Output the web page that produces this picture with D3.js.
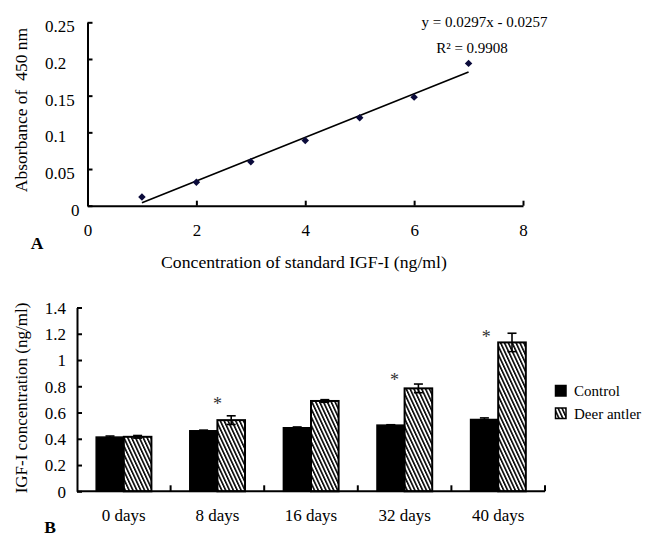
<!DOCTYPE html>
<html><head><meta charset="utf-8">
<script src="https://cdn.jsdelivr.net/npm/d3@7"></script>
<style>
body{margin:0;background:#fff}
svg{display:block}
text{font-family:"Liberation Serif","Times New Roman",serif;fill:#000;white-space:pre}
</style>
</head><body>
<svg id="c" width="654" height="543"></svg>
<script>
// ---------- Panel A data ----------
const concX = [1, 2, 3, 4, 5, 6, 7];
const absorbance = [0.012, 0.032, 0.060, 0.089, 0.120, 0.148, 0.194];
const trendSlope = 0.0297;
const trendIntercept = -0.0257;
const trendRange = [1, 7];
const xTicksA = [0, 2, 4, 6, 8];
const yTicksA = [0, 0.05, 0.1, 0.15, 0.2, 0.25];
const eqLabel = "y = 0.0297x - 0.0257";
const r2Label = "R\u00B2 = 0.9908";
const xTitleA = "Concentration of standard IGF-I (ng/ml)";
const yTitleA = "Absorbance of  450 nm";

// ---------- Panel B data ----------
const days = ["0 days", "8 days", "16 days", "32 days", "40 days"];
const controlVals = [0.413, 0.461, 0.484, 0.504, 0.547];
const controlErr = [0.008, 0.005, 0.006, 0.003, 0.012];
const antlerVals = [0.415, 0.542, 0.688, 0.784, 1.134];
const antlerErr = [0.010, 0.033, 0.010, 0.033, 0.070];
const yTicksB = [0, 0.2, 0.4, 0.6, 0.8, 1, 1.2, 1.4];
const starDays = ["8 days", "32 days", "40 days"];
const starVals = [0.684, 0.862, 1.19];
const seriesNames = ["Control", "Deer antler"];
const yTitleB = "IGF-I concentration (ng/ml)";

const svg = d3.select("#c");
const FONT = "'Liberation Serif','Times New Roman',serif";

// hatch pattern
const defs = svg.append("defs");
const pat = defs.append("pattern").attr("id", "hatch")
  .attr("patternUnits", "userSpaceOnUse").attr("width", 3.5).attr("height", 10)
  .attr("patternTransform", "rotate(-25)");
pat.append("rect").attr("width", 3.5).attr("height", 10).attr("fill", "#fff");
pat.append("rect").attr("width", 1.6).attr("height", 10).attr("fill", "#000");

// ================= Panel A =================
const xA = d3.scaleLinear().domain([0, 8]).range([87.5, 523]);
const yA = d3.scaleLinear().domain([0, 0.25]).range([205.7, 22.3]);

const gA = svg.append("g");
const yAxA = gA.append("g").attr("transform", `translate(${xA(0)},0)`)
  .call(d3.axisLeft(yA).tickValues(yTicksA).tickSize(-5).tickSizeOuter(0)
    .tickFormat(d => d === 0 ? "0" : String(d)));
yAxA.attr("font-family", FONT).attr("font-size", 17);
yAxA.select(".domain").attr("stroke-width", 2);
yAxA.selectAll(".tick line").attr("stroke-width", 2);
yAxA.selectAll(".tick text")
  .attr("text-anchor", d => d === 0 ? "end" : "start")
  .attr("x", d => d === 0 ? -8 : 45 - xA(0))
  .attr("dy", "0.55em");
const xAxA = gA.append("g").attr("transform", `translate(0,${yA(0)})`)
  .call(d3.axisBottom(xA).tickValues(xTicksA).tickSize(-5).tickSizeOuter(0));
xAxA.attr("font-family", FONT).attr("font-size", 17);
xAxA.select(".domain").attr("stroke-width", 2);
xAxA.selectAll(".tick line").attr("stroke-width", 2);
xAxA.selectAll(".tick text").attr("y", 24).attr("dy", "0.35em");

gA.append("line")
  .attr("x1", xA(trendRange[0])).attr("y1", yA(trendSlope * trendRange[0] + trendIntercept))
  .attr("x2", xA(trendRange[1])).attr("y2", yA(trendSlope * trendRange[1] + trendIntercept))
  .attr("stroke", "#000").attr("stroke-width", 1.6);
gA.selectAll("path.pt").data(concX).enter().append("path").attr("class", "pt")
  .attr("d", d3.symbol().type(d3.symbolSquare).size(28))
  .attr("transform", (d, i) => `translate(${xA(d)},${yA(absorbance[i])}) rotate(45)`)
  .attr("fill", "#0b0b3b");
gA.append("text").attr("x", 484.5).attr("y", 22).attr("dy", "0.35em")
  .attr("text-anchor", "middle").attr("font-size", 15).text(eqLabel);
gA.append("text").attr("x", 472).attr("y", 48).attr("dy", "0.35em")
  .attr("text-anchor", "middle").attr("font-size", 15).text(r2Label);
gA.append("text").attr("x", 304).attr("y", 262).attr("dy", "0.35em")
  .attr("text-anchor", "middle").attr("font-size", 17.7).text(xTitleA);
gA.append("text").attr("transform", "translate(21,110) rotate(-90)")
  .attr("dy", "0.35em").attr("text-anchor", "middle").attr("font-size", 17.5).text(yTitleA);
gA.append("text").attr("x", 37).attr("y", 243).attr("dy", "0.35em")
  .attr("text-anchor", "middle").attr("font-size", 17.5).attr("font-weight", "bold").text("A");

// ================= Panel B =================
const xB = d3.scaleBand().domain(days).range([77, 545]).paddingInner(0).paddingOuter(0);
const yB = d3.scaleLinear().domain([0, 1.4]).range([491.3, 307.5]);
const bw = xB.bandwidth() * 0.295;

const gB = svg.append("g");
const yAxB = gB.append("g").attr("transform", `translate(77,0)`)
  .call(d3.axisLeft(yB).tickValues(yTicksB).tickSize(-5).tickSizeOuter(0).tickPadding(11)
    .tickFormat(d => String(d)));
yAxB.attr("font-family", FONT).attr("font-size", 17);
yAxB.select(".domain").attr("stroke-width", 2);
yAxB.selectAll(".tick line").attr("stroke-width", 2);
yAxB.selectAll(".tick text").attr("dy", "0.35em");

const cx = d => xB(d) + xB.bandwidth() / 2;
gB.selectAll("rect.ctl").data(days).enter().append("rect").attr("class", "ctl")
  .attr("x", d => cx(d) - bw).attr("width", bw)
  .attr("y", (d, i) => yB(controlVals[i])).attr("height", (d, i) => yB(0) - yB(controlVals[i]))
  .attr("fill", "#000").attr("stroke", "#000").attr("stroke-width", 1.5);
gB.selectAll("rect.ant").data(days).enter().append("rect").attr("class", "ant")
  .attr("x", d => cx(d)).attr("width", bw)
  .attr("y", (d, i) => yB(antlerVals[i])).attr("height", (d, i) => yB(0) - yB(antlerVals[i]))
  .attr("fill", "url(#hatch)").attr("stroke", "#000").attr("stroke-width", 2);

function errBars(vals, errs, off) {
  days.forEach((d, i) => {
    const x = cx(d) + off;
    const y1 = yB(vals[i] + errs[i]), y2 = yB(vals[i] - errs[i]);
    const g = gB.append("g").attr("stroke", "#000").attr("stroke-width", 1.6);
    g.append("line").attr("x1", x).attr("x2", x).attr("y1", y1).attr("y2", y2);
    g.append("line").attr("x1", x - 4.5).attr("x2", x + 4.5).attr("y1", y1).attr("y2", y1);
    g.append("line").attr("x1", x - 4.5).attr("x2", x + 4.5).attr("y1", y2).attr("y2", y2);
  });
}
errBars(controlVals, controlErr, -bw / 2);
errBars(antlerVals, antlerErr, bw / 2);

gB.append("line").attr("x1", 77).attr("x2", 545).attr("y1", yB(0)).attr("y2", yB(0))
  .attr("stroke", "#000").attr("stroke-width", 2);
gB.selectAll("line.bt").data(days).enter().append("line").attr("class", "bt")
  .attr("x1", d => xB(d) + xB.bandwidth()).attr("x2", d => xB(d) + xB.bandwidth())
  .attr("y1", yB(0)).attr("y2", yB(0) - 6).attr("stroke", "#000").attr("stroke-width", 2);
gB.selectAll("text.xl").data(days).enter().append("text").attr("class", "xl")
  .attr("x", d => cx(d)).attr("y", yB(0) + 24).attr("dy", "0.35em")
  .attr("text-anchor", "middle").attr("font-size", 17).text(d => d);

const starDx = [0, -10, -12];
gB.selectAll("text.star").data(starDays).enter().append("text").attr("class", "star")
  .attr("x", (d, i) => cx(d) + starDx[i]).attr("y", (d, i) => yB(starVals[i]) + 8)
  .attr("text-anchor", "middle").attr("font-size", 18).style("fill", "#333").text("*");

gB.append("text").attr("transform", "translate(21,398) rotate(-90)")
  .attr("dy", "0.35em").attr("text-anchor", "middle").attr("font-size", 17).text(yTitleB);
gB.append("text").attr("x", 50).attr("y", 527).attr("dy", "0.35em")
  .attr("text-anchor", "middle").attr("font-size", 17.5).attr("font-weight", "bold").text("B");

const lg = gB.append("g");
seriesNames.forEach((n, i) => {
  const y = 391 + i * 22.5;
  lg.append("rect").attr("x", 555.5).attr("y", y - 5.5).attr("width", 10.5).attr("height", 10.5)
    .attr("fill", i === 0 ? "#000" : "url(#hatch)").attr("stroke", "#000").attr("stroke-width", 1.5);
  lg.append("text").attr("x", 574).attr("y", y).attr("dy", "0.35em")
    .attr("font-size", 15).text(n);
});
</script>
</body></html>
